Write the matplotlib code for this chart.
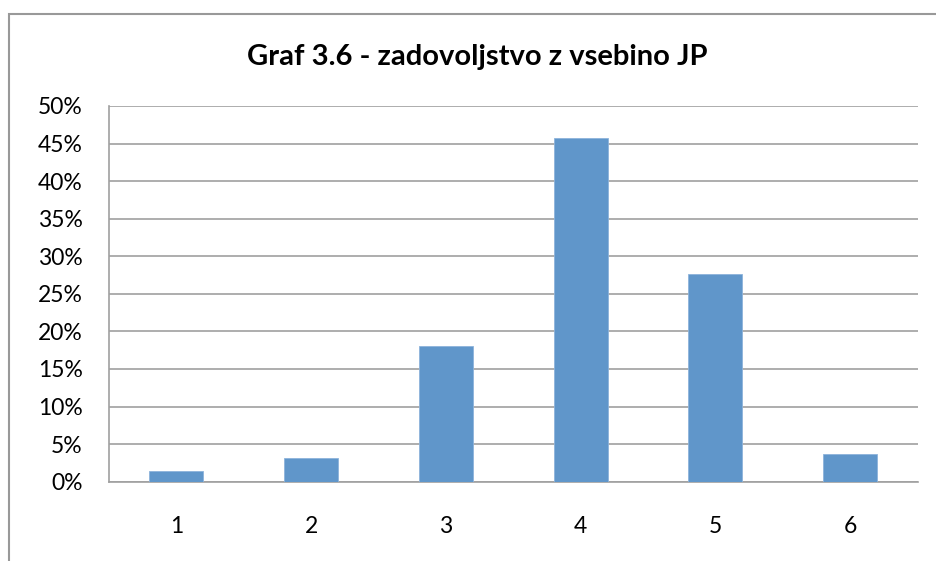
import matplotlib
matplotlib.use("Agg")
import matplotlib.pyplot as plt
from matplotlib.patches import Rectangle
from matplotlib.ticker import PercentFormatter

categories = ["1", "2", "3", "4", "5", "6"]
values = [1.4, 3.2, 18.1, 45.8, 27.7, 3.7]
yticks = [0, 5, 10, 15, 20, 25, 30, 35, 40, 45, 50]
title = "Graf 3.6 - zadovoljstvo z vsebino JP"

plt.rcParams['font.family'] = ['Lato', 'DejaVu Sans']

W, H = 936, 561
fig = plt.figure(figsize=(W / 100, H / 100), dpi=100)
ax = fig.add_axes([109 / W, 1 - 481.7 / H, (917.5 - 109) / W, (481.7 - 106) / H])

x = list(range(len(categories)))
ax.bar(x, values, width=0.4, color="#6096CA", edgecolor="#8DB3DB", linewidth=0.6, zorder=3)

ax.set_xlim(-0.5, len(categories) - 0.5)
ax.set_ylim(0, 50)
ax.set_yticks(yticks)
ax.yaxis.set_major_formatter(PercentFormatter(decimals=0))
ax.set_xticks(x)
ax.set_xticklabels(categories)
ax.tick_params(axis="both", length=0, labelsize=16.5, colors="black")
ax.tick_params(axis="y", pad=19)
ax.tick_params(axis="x", pad=25)
ax.grid(axis="y", color="#A0A0A0", linewidth=1.2, zorder=0)
for s in ["top", "right"]:
    ax.spines[s].set_visible(False)
for s in ["left", "bottom"]:
    ax.spines[s].set_color("#A0A0A0")
    ax.spines[s].set_linewidth(1.2)

fig.text(477 / W, 1 - 57 / H, title, ha="center", va="center",
         fontsize=21, fontweight="bold", color="black")

fig.patches.append(Rectangle((8.5 / W, -0.05), 1.0, 1 - 14 / H + 0.05,
                             transform=fig.transFigure, fill=False,
                             edgecolor="#999999", linewidth=1.5))

fig.savefig("out.png", dpi=100)
